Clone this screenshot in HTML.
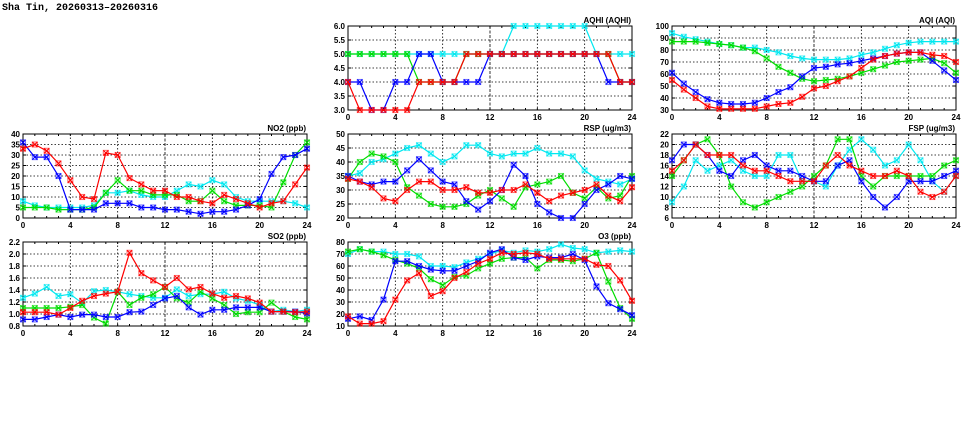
<!DOCTYPE html>
<html><head><meta charset="utf-8"><style>
html,body{margin:0;padding:0;background:#fff;width:975px;height:447px;overflow:hidden}
svg{display:block}
text{font-family:"Liberation Sans",sans-serif;font-weight:bold}
</style></head><body>
<svg id="chart" width="975" height="447" viewBox="0 0 975 447" xmlns="http://www.w3.org/2000/svg">
<text x="2" y="10" font-size="10" style="font-family:'Liberation Mono',monospace">Sha Tin, 20260313–20260316</text>
</svg>
<script>
const hours=[0,1,2,3,4,5,6,7,8,9,10,11,12,13,14,15,16,17,18,19,20,21,22,23,24];
const xTicks=[0,4,8,12,16,20,24];
const seriesColors=['#00e8f0','#00dd00','#0000ff','#ff0000'];
const seriesNames=['cyan','green','blue','red'];
const aqhiTitle='AQHI (AQHI)';
const aqhiTicks=['3.0','3.5','4.0','4.5','5.0','5.5','6.0'];
const aqhiCyan=[5,5,5,5,5,5,5,5,5,5,5,5,5,5,6,6,6,6,6,6,6,5,5,5,5];
const aqhiGreen=[5,5,5,5,5,5,4,4,4,4,5,5,5,5,5,5,5,5,5,5,5,5,5,4,4];
const aqhiBlue=[4,4,3,3,4,4,5,5,4,4,4,4,5,5,5,5,5,5,5,5,5,5,4,4,4];
const aqhiRed=[4,3,3,3,3,3,4,4,4,4,5,5,5,5,5,5,5,5,5,5,5,5,5,4,4];
const aqiTicks=['30','40','50','60','70','80','90','100'];
const aqiCyan=[94,91,89,87,85,84,82,82,80,78,75,73,72,72,72,73,76,78,81,84,86,87,87,87,87];
const aqiGreen=[87,87,87,86,85,84,82,79,73,66,61,56,54,55,56,58,61,64,67,70,71,72,73,69,61];
const aqiBlue=[61,52,45,39,36,35,35,36,40,45,49,58,65,66,68,69,71,73,75,77,78,78,71,63,55];
const aqiRed=[55,47,40,33,31,31,31,31,33,35,36,41,48,50,54,58,65,72,75,77,78,78,76,75,70];
const no2Ticks=['0','5','10','15','20','25','30','35','40'];
const no2Cyan=[8,6,5,5,5,5,6,12,12,13,11,10,10,13,16,15,18,16,10,8,8,8,8,7,5];
const no2Green=[5,5,5,4,4,4,5,12,18,13,13,11,11,11,8,8,13,8,6,6,6,5,17,30,36];
const no2Blue=[36,29,29,20,4,4,4,7,7,7,5,5,4,4,3,2,3,3,4,6,9,21,29,30,33];
const no2Red=[33,35,32,26,18,10,9,31,30,19,16,13,13,10,10,8,7,11,9,7,5,7,8,16,24];
const rspTicks=['20','25','30','35','40','45','50'];
const rspCyan=[35,36,40,41,43,45,46,43,40,42,46,46,43,42,43,43,45,43,43,42,37,34,33,32,34];
const rspGreen=[34,40,43,42,40,31,28,25,24,24,25,28,30,27,24,31,32,33,35,29,27,31,27,28,35];
const rspBlue=[35,33,32,33,33,37,41,37,33,32,26,23,26,30,39,35,25,22,20,20,25,30,32,35,34];
const rspRed=[34,33,31,27,26,30,33,33,30,30,31,29,29,30,30,32,29,26,28,29,30,32,28,26,31];
const fspTicks=['6','8','10','12','14','16','18','20','22'];
const fspCyan=[9,12,17,15,16,17,15,14,14,18,18,13,13,12,16,19,21,19,16,17,20,17,13,11,14];
const fspGreen=[14,17,20,21,18,12,9,8,9,10,11,12,14,16,21,21,14,12,14,14,14,14,14,16,17];
const fspBlue=[17,20,20,18,15,14,17,18,16,15,15,14,13,13,16,17,13,10,8,10,13,13,13,14,15];
const fspRed=[15,17,20,18,18,18,16,15,15,14,13,13,13,16,18,16,15,14,14,15,14,11,10,11,14];
const so2Ticks=['0.8','1.0','1.2','1.4','1.6','1.8','2.0','2.2'];
const so2Cyan=[1.27,1.34,1.45,1.30,1.33,1.18,1.38,1.40,1.37,1.33,1.30,1.27,1.27,1.41,1.30,1.33,1.33,1.37,1.26,1.22,1.15,1.04,1.07,1.04,1.07];
const so2Green=[1.10,1.10,1.10,1.10,1.12,1.15,0.94,0.84,1.37,1.15,1.27,1.33,1.45,1.26,1.19,1.37,1.26,1.15,1.00,1.03,1.03,1.19,1.04,0.95,0.91];
const so2Blue=[0.91,0.91,0.95,0.99,0.95,0.99,0.99,0.95,0.95,1.03,1.04,1.15,1.26,1.30,1.11,0.99,1.07,1.07,1.11,1.11,1.11,1.04,1.04,1.04,1.01];
const so2Red=[1.03,1.03,1.03,0.99,1.10,1.22,1.30,1.34,1.37,2.02,1.68,1.56,1.45,1.60,1.41,1.45,1.34,1.27,1.30,1.26,1.19,1.04,1.04,1.03,1.04];
const o3Ticks=['10','20','30','40','50','60','70','80'];
const o3Cyan=[70,74,72,72,70,70,68,60,60,59,63,66,70,73,71,73,72,74,78,75,74,71,72,73,72];
const o3Green=[72,74,72,69,65,62,58,49,44,51,52,58,62,66,67,67,58,65,65,64,66,71,47,25,16];
const o3Blue=[16,18,15,32,64,64,60,57,56,56,60,64,71,74,67,65,68,67,67,70,65,43,29,24,19];
const o3Red=[18,12,12,14,32,48,54,35,39,50,55,62,66,71,70,71,70,66,66,66,66,61,60,48,31];

const NS='http://www.w3.org/2000/svg';
const svg=document.getElementById('chart');
function mk(tag,attrs,parent){const e=document.createElementNS(NS,tag);for(const k in attrs)e.setAttribute(k,attrs[k]);(parent||svg).appendChild(e);return e;}

const panels=[
 {key:'aqhi',title:'AQHI (AQHI)',x:348,y:26,ticks:aqhiTicks,series:[aqhiCyan,aqhiGreen,aqhiBlue,aqhiRed]},
 {key:'aqi',title:'AQI (AQI)',x:672,y:26,ticks:aqiTicks,series:[aqiCyan,aqiGreen,aqiBlue,aqiRed]},
 {key:'no2',title:'NO2 (ppb)',x:23,y:134,ticks:no2Ticks,series:[no2Cyan,no2Green,no2Blue,no2Red]},
 {key:'rsp',title:'RSP (ug/m3)',x:348,y:134,ticks:rspTicks,series:[rspCyan,rspGreen,rspBlue,rspRed]},
 {key:'fsp',title:'FSP (ug/m3)',x:672,y:134,ticks:fspTicks,series:[fspCyan,fspGreen,fspBlue,fspRed]},
 {key:'so2',title:'SO2 (ppb)',x:23,y:242,ticks:so2Ticks,series:[so2Cyan,so2Green,so2Blue,so2Red]},
 {key:'o3',title:'O3 (ppb)',x:348,y:242,ticks:o3Ticks,series:[o3Cyan,o3Green,o3Blue,o3Red]}
];
const W=284,H=84;
panels.forEach(p=>{
  const g=mk('g',{});
  
  
  const tv=p.ticks.map(Number);
  const ymin=tv[0],ymax=tv[tv.length-1];
  const xs=h=>p.x+h/24*W;
  const ys=v=>p.y+H-(v-ymin)/(ymax-ymin)*H;
  // grid
  tv.forEach((v,i)=>{
    const yy=ys(v);
    if(i>0&&i<tv.length-1){const l=mk('line',{x1:p.x,x2:p.x+W,y1:yy,y2:yy,stroke:'#000','stroke-width':0.8,'stroke-dasharray':'1.5,2'},g);}
    const t=mk('text',{x:p.x-3,y:yy+3,'font-size':8,'text-anchor':'end'},g);t.textContent=p.ticks[i];
    
    mk('line',{x1:p.x,x2:p.x+3,y1:yy,y2:yy,stroke:'#000','stroke-width':1},g);
    mk('line',{x1:p.x+W-3,x2:p.x+W,y1:yy,y2:yy,stroke:'#000','stroke-width':1},g);
  });
  xTicks.forEach(h=>{
    const xx=xs(h);
    if(h>0&&h<24){const l=mk('line',{x1:xx,x2:xx,y1:p.y,y2:p.y+H,stroke:'#000','stroke-width':0.8,'stroke-dasharray':h==12?'3,1.5':'1.5,2'},g);}
    const t=mk('text',{x:xx,y:p.y+H+10,'font-size':8,'text-anchor':'middle'},g);t.textContent=h;
    
  });
  hours.forEach(h=>{const xx=xs(h);mk('line',{x1:xx,x2:xx,y1:p.y+H,y2:p.y+H-2,stroke:'#000'},g);mk('line',{x1:xx,x2:xx,y1:p.y,y2:p.y+2,stroke:'#000'},g);});
  const fr=mk('rect',{x:p.x,y:p.y,width:W,height:H,fill:'none',stroke:'#000','stroke-width':1},g);
  
  const tt=mk('text',{x:p.x+W-1,y:p.y-3,'font-size':8,'text-anchor':'end'},g);tt.textContent=p.title;
  
  // clip
  const cid='clip-'+p.key;
  const cp=mk('clipPath',{id:cid},g);mk('rect',{x:p.x-4,y:p.y-4,width:W+8,height:H+8},cp);
  p.series.forEach((vals,si)=>{
    const sg=mk('g',{'clip-path':'url(#'+cid+')'},g);
    
    
    const c=seriesColors[si];
    const pts=vals.map((v,i)=>xs(hours[i]).toFixed(1)+','+ys(v).toFixed(1)).join(' ');
    const pl=mk('polyline',{points:pts,fill:'none',stroke:c,'stroke-width':1.2},sg);
    
    vals.forEach((v,i)=>{
      const cx=xs(hours[i]),cy=ys(v),r=2.5;
      const m=mk('g',{stroke:c,'stroke-width':1.1},sg);
      
      
      mk('rect',{x:cx-r,y:cy-r,width:2*r,height:2*r,fill:'none','stroke-opacity':0.55},m);
      mk('line',{x1:cx-r,y1:cy-r,x2:cx+r,y2:cy+r},m);
      mk('line',{x1:cx-r,y1:cy+r,x2:cx+r,y2:cy-r},m);
    });
  });
});
</script>
</body></html>
